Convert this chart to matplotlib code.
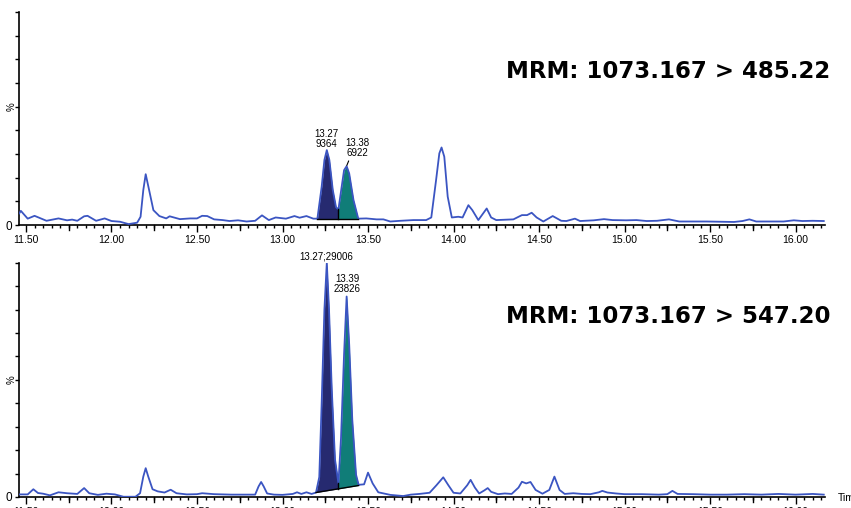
import matplotlib
matplotlib.use('Agg')
import matplotlib.pyplot as plt
import numpy as np

# trace 1: MRM 1073.167 > 485.22 (time, %)
top_t = [11.46, 11.47, 11.51, 11.55, 11.62, 11.69, 11.74, 11.77, 11.80, 11.84,
         11.86, 11.91, 11.96, 12.00, 12.05, 12.10, 12.15, 12.17, 12.186, 12.20,
         12.22, 12.245, 12.28, 12.32, 12.34, 12.40, 12.46, 12.50, 12.53, 12.56,
         12.60, 12.65, 12.69, 12.74, 12.79, 12.84, 12.88, 12.92, 12.96, 13.02,
         13.07, 13.10, 13.14, 13.18, 13.204, 13.229, 13.245, 13.259, 13.274, 13.294,
         13.313, 13.327, 13.346, 13.36, 13.375, 13.39, 13.415, 13.443, 13.49, 13.55,
         13.59, 13.63, 13.69, 13.765, 13.84, 13.87, 13.898, 13.917, 13.93, 13.946,
         13.966, 13.99, 14.028, 14.053, 14.087, 14.11, 14.145, 14.194, 14.22, 14.25,
         14.35, 14.40, 14.43, 14.457, 14.486, 14.525, 14.58, 14.63, 14.66, 14.71,
         14.74, 14.82, 14.88, 14.93, 15.01, 15.07, 15.13, 15.19, 15.26, 15.32,
         15.40, 15.48, 15.56, 15.64, 15.69, 15.73, 15.77, 15.85, 15.93, 15.99,
         16.04, 16.10, 16.165]
top_v = [4.9, 6.0, 2.7, 3.9, 1.8, 2.8, 2.0, 2.3, 1.8, 3.7,
         3.9, 1.8, 2.8, 1.7, 1.4, 0.4, 1.0, 3.5, 14.8, 21.5,
         14.8, 6.3, 3.8, 2.8, 3.7, 2.5, 2.8, 2.8, 3.9, 3.8,
         2.4, 2.1, 1.7, 2.0, 1.5, 1.8, 4.1, 2.1, 3.2, 2.7,
         3.8, 3.1, 3.8, 2.7, 2.7, 16.2, 27.5, 31.7, 27.5, 14.8,
         7.5, 6.6, 16.2, 23.2, 24.9, 21.8, 10.6, 2.7, 2.8, 2.4,
         2.4, 1.5, 1.8, 2.1, 2.1, 3.2, 19.0, 30.3, 32.8, 28.9,
         12.0, 3.2, 3.5, 3.2, 8.4, 6.3, 2.1, 7.0, 3.2, 2.1,
         2.4, 4.2, 4.2, 5.2, 3.2, 1.5, 3.8, 1.8, 1.7, 2.7,
         1.7, 2.0, 2.5, 2.1, 2.0, 2.1, 1.7, 1.8, 2.4, 1.5,
         1.5, 1.5, 1.4, 1.3, 1.7, 2.4, 1.5, 1.5, 1.5, 2.0,
         1.7, 1.8, 1.7]

# trace 2: MRM 1073.167 > 547.20 (time, %)
bot_t = [11.46, 11.51, 11.543, 11.57, 11.60, 11.64, 11.69, 11.74, 11.80, 11.84,
         11.87, 11.92, 11.97, 12.02, 12.07, 12.14, 12.167, 12.186, 12.20, 12.215,
         12.24, 12.27, 12.31, 12.346, 12.38, 12.44, 12.50, 12.53, 12.60, 12.70,
         12.80, 12.84, 12.86, 12.875, 12.89, 12.91, 12.95, 13.00, 13.06, 13.085,
         13.11, 13.14, 13.17, 13.196, 13.215, 13.229, 13.245, 13.259, 13.272, 13.288,
         13.307, 13.327, 13.342, 13.36, 13.375, 13.39, 13.408, 13.43, 13.445, 13.477,
         13.50, 13.527, 13.56, 13.63, 13.706, 13.75, 13.80, 13.86, 13.90, 13.94,
         13.97, 14.00, 14.04, 14.08, 14.10, 14.125, 14.15, 14.18, 14.20, 14.22,
         14.26, 14.30, 14.34, 14.38, 14.40, 14.425, 14.45, 14.48, 14.52, 14.56,
         14.59, 14.62, 14.65, 14.70, 14.75, 14.80, 14.85, 14.87, 14.90, 14.95,
         15.00, 15.10, 15.20, 15.25, 15.28, 15.31, 15.40, 15.50, 15.60, 15.70,
         15.80, 15.90, 16.00, 16.10, 16.165]
bot_v = [1.1, 1.1, 3.3, 1.7, 1.4, 0.7, 2.0, 1.6, 1.3, 3.8,
         1.6, 0.9, 1.4, 1.1, 0.1, 0.1, 1.6, 8.7, 12.3, 8.7,
         3.3, 2.4, 1.9, 3.1, 1.6, 1.1, 1.2, 1.6, 1.2, 1.0,
         1.0, 1.0, 4.5, 6.4, 4.5, 1.5, 1.0, 0.9, 1.3, 2.0,
         1.3, 2.0, 1.3, 1.9, 8.5, 40.0, 80.0, 100.0, 80.0, 46.0,
         16.0, 5.8, 25.0, 61.0, 85.6, 65.0, 33.0, 9.5, 5.2, 5.4,
         10.4, 5.8, 2.0, 0.9, 0.4, 1.0, 1.3, 1.8, 5.0, 8.4,
         5.0, 1.8, 1.5, 5.0, 7.3, 4.0, 1.5, 2.8, 3.8, 2.2,
         1.2, 1.5, 1.3, 4.0, 6.5, 5.8, 6.4, 3.0, 1.4, 3.0,
         8.7, 3.0, 1.3, 1.6, 1.3, 1.2, 2.0, 2.6, 1.9, 1.5,
         1.2, 1.2, 1.0, 1.2, 2.6, 1.3, 1.2, 1.0, 1.0, 1.2,
         1.0, 1.3, 1.0, 1.3, 1.0]

# integrated peaks: start, split, end, baseline at start / end
top_peak = dict(start=13.204, split=13.327, end=13.443, b0=2.7, b1=2.7)
bot_peak = dict(start=13.196, split=13.327, end=13.445, b0=1.9, b1=4.9)

titles = ['MRM: 1073.167 > 485.22', 'MRM: 1073.167 > 547.20']
x_ticks = [11.5, 12.0, 12.5, 13.0, 13.5, 14.0, 14.5, 15.0, 15.5, 16.0]

line_col = '#3b55c2'
col_a = '#262a70'
col_b = '#107d78'

fig = plt.figure(figsize=(8.51, 5.08), dpi=100)
ax1 = fig.add_axes([0.0223, 0.557, 0.9471, 0.419])
ax2 = fig.add_axes([0.0223, 0.0217, 0.9471, 0.461])


def dibujar(ax, t, v, pk, ymax):
    t = np.array(t)
    v = np.array(v)
    ax.plot(t, v, color=line_col, lw=1.3, zorder=3,
            solid_joinstyle='round')

    m = (t >= pk['start']) & (t <= pk['end'])
    tt, vv = t[m], v[m]
    base = np.interp(tt, [pk['start'], pk['end']], [pk['b0'], pk['b1']])
    ax.fill_between(tt, base, vv, where=tt <= pk['split'] + 1e-9,
                    color=col_a, lw=0, zorder=2)
    ax.fill_between(tt, base, vv, where=tt >= pk['split'] - 1e-9,
                    color=col_b, lw=0, zorder=2)
    ax.plot([pk['start'], pk['end']], [pk['b0'], pk['b1']],
            color='black', lw=1, zorder=4)
    bs = np.interp(pk['split'], [pk['start'], pk['end']], [pk['b0'], pk['b1']])
    vs = np.interp(pk['split'], t, v)
    ax.plot([pk['split'], pk['split']], [bs, vs], color='black', lw=1, zorder=4)

    ax.set_xlim(11.459, 16.172)
    ax.set_ylim(0, ymax)
    ax.set_xticks(x_ticks)
    ax.set_xticklabels([f'{x:.2f}' for x in x_ticks], fontsize=7.5,
                       family='Liberation Sans')
    ax.set_xticks(np.arange(11.5, 16.2, 0.05), minor=True)
    ax.set_yticks(np.arange(0, ymax + 1, 10))
    ax.set_yticklabels(['0'] + [''] * (len(np.arange(0, ymax + 1, 10)) - 1),
                       fontsize=8.5, family='Liberation Sans')
    ax.tick_params(axis='x', which='major', length=5, width=1, pad=2)
    ax.tick_params(axis='x', which='minor', length=2.5, width=1)
    ax.tick_params(axis='y', length=3, width=1, pad=2)
    # ticks at 0.25 as longer ones
    for q in np.arange(11.75, 16.2, 0.5):
        ax.plot([q, q], [0, -ymax * 0.022], color='black', lw=1, clip_on=False)
    for s in ['top', 'right']:
        ax.spines[s].set_visible(False)
    ax.spines['left'].set_linewidth(1.2)
    ax.spines['bottom'].set_linewidth(1.2)


dibujar(ax1, top_t, top_v, top_peak, 90)
dibujar(ax2, bot_t, bot_v, bot_peak, 100)

lab = dict(fontsize=7, family='Liberation Sans', ha='center', va='bottom',
           linespacing=1.0)
ax1.text(13.254, 32.3, '13.27\n9364', **lab)
ax1.annotate('13.38\n6922', xy=(13.376, 25.2), xytext=(13.436, 28.3),
             arrowprops=dict(arrowstyle='-', color='black', lw=0.8,
                             shrinkA=0, shrinkB=0,
                             relpos=(0.2, 0.0)), **lab)
ax2.text(13.254, 100.5, '13.27;29006', clip_on=False, **lab)
ax2.text(13.377, 86.5, '13.39\n23826', **lab)

fig.text(0.976, 1 - 78 / 508, titles[0], fontsize=16.5, fontweight='bold',
         family='DejaVu Sans', ha='right', va='baseline')
fig.text(0.976, 1 - 323 / 508, titles[1], fontsize=16.5, fontweight='bold',
         family='DejaVu Sans', ha='right', va='baseline')

fig.text(12 / 851, 1 - 107 / 508, '%', rotation=90, fontsize=7,
         family='Liberation Sans', ha='center', va='center')
fig.text(12 / 851, 1 - 380 / 508, '%', rotation=90, fontsize=7,
         family='Liberation Sans', ha='center', va='center')
fig.text(838 / 851, 1 - 498 / 508, 'Time', fontsize=7.5,
         family='Liberation Sans', ha='left', va='center')

fig.savefig('out.png', dpi=100)
plt.close(fig)
